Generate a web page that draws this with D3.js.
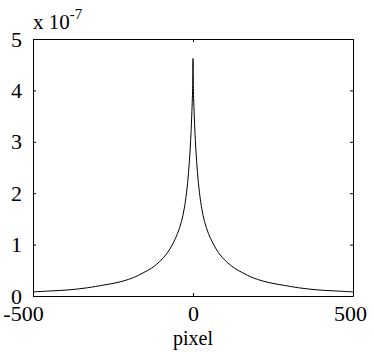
<!DOCTYPE html>
<html>
<head>
<meta charset="utf-8">
<script src="https://cdn.jsdelivr.net/npm/d3@7"></script>
<style>
  body { margin: 0; background: #fff; }
  text { font-family: "Liberation Serif", "DejaVu Serif", serif; fill: #000; }
</style>
</head>
<body>
<div id="chart"></div>
<script>
// curve (y in units of 1e-7)
const pixelX = [-500, -440, -387, -330, -282, -250, -219, -185, -156, -130, -104, -80, -62, -48, -36, -28, -20, -14, -9, -6, -4, -2, -1, 0,
                1, 2, 4, 6, 9, 14, 20, 28, 36, 48, 62, 80, 104, 130, 156, 185, 219, 250, 282, 330, 387, 440, 500];
const valueY = [0.08, 0.10, 0.12, 0.16, 0.21, 0.245, 0.29, 0.36, 0.45, 0.54, 0.67, 0.84, 1.03, 1.22, 1.45, 1.68, 2.02, 2.4, 2.84, 3.2, 3.5, 3.85, 4.1, 4.62,
                4.1, 3.85, 3.5, 3.2, 2.84, 2.4, 2.02, 1.68, 1.45, 1.22, 1.03, 0.84, 0.67, 0.54, 0.45, 0.36, 0.29, 0.245, 0.21, 0.16, 0.12, 0.10, 0.08];
const xTicks = [-500, 0, 500];
const yTicks = [0, 1, 2, 3, 4, 5];

const params = {
    width: 374,
    height: 352,
    margin: {top: 39, right: 21, bottom: 56, left: 33},
    tick: 3,
    fontSize: 22
}

const svg = d3.select("#chart")
    .append("svg")
    .attr("width", params.width)
    .attr("height", params.height);

const x = d3.scaleLinear()
    .domain([-500, 500])
    .range([params.margin.left, params.width - params.margin.right]);

const y = d3.scaleLinear()
    .domain([0, 5])
    .range([params.height - params.margin.bottom, params.margin.top]);

const data = pixelX.map((d, i) => ({x: d, y: valueY[i]}));

// curve
svg.append("path")
    .datum(data)
    .attr("fill", "none")
    .attr("stroke", "#000")
    .attr("stroke-width", 1)
    .attr("d", d3.line().x(d => x(d.x)).y(d => y(d.y)).curve(d3.curveCatmullRom.alpha(0.5)));

// box with inward ticks on all four sides
const axes = [
    {axis: d3.axisBottom(x).tickValues(xTicks).tickFormat(d => d), at: y(0), pad: 6, dir: "x"},
    {axis: d3.axisTop(x).tickValues(xTicks).tickFormat(""), at: y(5), pad: 5, dir: "x"},
    {axis: d3.axisLeft(y).tickValues(yTicks).tickFormat(d => d), at: x(-500), pad: 8, dir: "y"},
    {axis: d3.axisRight(y).tickValues(yTicks).tickFormat(""), at: x(500), pad: 5, dir: "y"}
];

axes.forEach((a, k) => {
    const g = svg.append("g")
        .attr("transform", a.dir === "x" ? `translate(0,${a.at})` : `translate(${a.at},0)`)
        .call(a.axis.tickSizeInner(-params.tick).tickSizeOuter(0).tickPadding(params.tick + a.pad));
    g.select(".domain").attr("stroke", "#000");
    g.selectAll(".tick line").attr("stroke", "#000");
    g.selectAll("text")
        .attr("font-size", params.fontSize)
        .attr("font-family", "Liberation Serif")
        .attr("fill", "#000");
    if (k === 0) {
        // end labels sit a little left of their ticks, as in the original export
        g.selectAll(".tick text").attr("dx", d => d === -500 ? -10 : d === 500 ? -3 : 0);
    }
});

// x label
svg.append("text")
    .attr("x", x(0))
    .attr("y", 345)
    .attr("text-anchor", "middle")
    .attr("font-size", 20)
    .text("pixel");

// exponent
const expo = svg.append("text")
    .attr("x", x(-500))
    .attr("y", 29)
    .attr("font-size", 21);
expo.append("tspan").text("x 10");
expo.append("tspan")
    .attr("dy", -10)
    .attr("font-size", 15)
    .text("-7");
</script>
</body>
</html>
